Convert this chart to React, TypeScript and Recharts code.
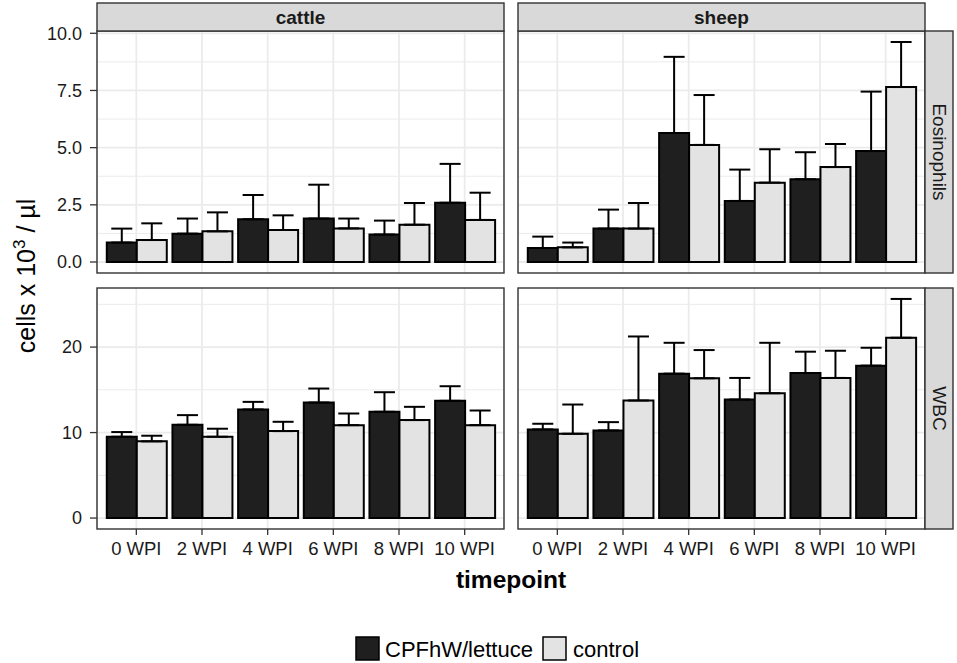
import React from 'react';
import { BarChart, Bar, XAxis, YAxis, CartesianGrid, ErrorBar } from 'recharts';

const categories = ['0 WPI', '2 WPI', '4 WPI', '6 WPI', '8 WPI', '10 WPI'];

const cattleEosCpf = [0.85, 1.24, 1.87, 1.9, 1.2, 2.59];
const cattleEosCpfSd = [0.61, 0.66, 1.06, 1.48, 0.61, 1.7];
const cattleEosCtl = [0.96, 1.34, 1.4, 1.47, 1.63, 1.84];
const cattleEosCtlSd = [0.73, 0.83, 0.64, 0.43, 0.95, 1.19];

const sheepEosCpf = [0.61, 1.46, 5.64, 2.67, 3.62, 4.85];
const sheepEosCpfSd = [0.5, 0.83, 3.33, 1.37, 1.18, 2.6];
const sheepEosCtl = [0.64, 1.46, 5.12, 3.47, 4.15, 7.65];
const sheepEosCtlSd = [0.21, 1.12, 2.18, 1.46, 1.01, 1.97];

const cattleWbcCpf = [9.51, 10.91, 12.7, 13.51, 12.43, 13.71];
const cattleWbcCpfSd = [0.55, 1.13, 0.89, 1.64, 2.29, 1.71];
const cattleWbcCtl = [8.97, 9.51, 10.17, 10.87, 11.46, 10.87];
const cattleWbcCtlSd = [0.66, 0.94, 1.09, 1.36, 1.55, 1.71];

const sheepWbcCpf = [10.37, 10.25, 16.89, 13.86, 16.97, 17.83];
const sheepWbcCpfSd = [0.66, 0.97, 3.61, 2.53, 2.49, 2.09];
const sheepWbcCtl = [9.86, 13.75, 16.35, 14.6, 16.39, 21.09];
const sheepWbcCtlSd = [3.42, 7.49, 3.3, 5.9, 3.18, 4.54];

const eosMajor = [0, 2.5, 5, 7.5, 10];
const eosMinor = [1.25, 3.75, 6.25, 8.75];
const wbcMajor = [0, 10, 20];
const wbcMinor = [5, 15, 25];
const eosDomain: [number, number] = [-0.481, 10.1];
const wbcDomain: [number, number] = [-1.28, 26.91];

const facetCols = ['cattle', 'sheep'];
const facetRows = ['Eosinophils', 'WBC'];
const legendLabels = ['CPFhW/lettuce', 'control'];

const DARK = '#1f1f1f';
const LIGHT = '#e3e3e3';
const FONT = '"Liberation Sans", Arial, Helvetica, sans-serif';

function build(cpf: number[], cpfSd: number[], ctl: number[], ctlSd: number[]) {
  return categories.map((c, i) => ({
    tp: c,
    cpf: cpf[i],
    cpfErr: [0, cpfSd[i]],
    ctl: ctl[i],
    ctlErr: [0, ctlSd[i]],
  }));
}

const COLS: [number, number][] = [
  [97, 504],
  [518, 925],
];
const ROWS: [number, number][] = [
  [31, 273],
  [288, 529],
];
const YW = 97;
const XH = 40;
const TOPPAD = 14;

type PanelProps = {
  data: any[];
  col: number;
  row: number;
  domain: [number, number];
  major: number[];
  minor: number[];
  fmt: (v: number) => string;
};

const EmptyTick = () => <g />;

function Panel({ data, col, row, domain, major, minor, fmt }: PanelProps) {
  const showY = col === 0;
  const showX = row === 1;
  const [x0, x1] = COLS[col];
  const [y0, y1] = ROWS[row];
  const pw = x1 - x0;
  const ph = y1 - y0;
  const width = pw + (showY ? YW : 0);
  const height = ph + TOPPAD + (showX ? XH : 0);
  return (
    <div style={{ position: 'absolute', left: showY ? x0 - YW : x0, top: y0 - TOPPAD }}>
      <BarChart
        width={width}
        height={height}
        data={data}
        margin={{ top: TOPPAD, right: 0, bottom: 0, left: 0 }}
        barCategoryGap="5%"
        barGap={0}
      >
        <CartesianGrid horizontalValues={minor} vertical={false} stroke="#ebebeb" strokeWidth={1} />
        <CartesianGrid horizontalValues={major} stroke="#ebebeb" strokeWidth={1.8} />
        <XAxis
          dataKey="tp"
          type="category"
          padding={{ left: 6.5, right: 6.5 }}
          height={showX ? XH : 0}
          interval={0}
          axisLine={false}
          tickSize={6}
          tickMargin={7}
          tickLine={showX ? { stroke: '#333', strokeWidth: 1.3 } : false}
          tick={showX ? { fill: '#1a1a1a', fontSize: 18.5, fontFamily: FONT } : EmptyTick}
        />
        <YAxis
          type="number"
          domain={domain}
          ticks={major}
          interval={0}
          allowDataOverflow
          hide={!showY}
          width={YW}
          axisLine={false}
          tickSize={7}
          tickMargin={8}
          tickFormatter={fmt}
          tickLine={{ stroke: '#333', strokeWidth: 1.3 }}
          tick={{ fill: '#1a1a1a', fontSize: 18, fontFamily: FONT }}
        />
        <Bar dataKey="cpf" fill={DARK} stroke="#000" strokeWidth={2} isAnimationActive={false}>
          <ErrorBar dataKey="cpfErr" width={10.5} stroke="#000" strokeWidth={2} direction="y" isAnimationActive={false} />
        </Bar>
        <Bar dataKey="ctl" fill={LIGHT} stroke="#000" strokeWidth={2} isAnimationActive={false}>
          <ErrorBar dataKey="ctlErr" width={10.5} stroke="#000" strokeWidth={2} direction="y" isAnimationActive={false} />
        </Bar>
      </BarChart>
    </div>
  );
}

const fmtEos = (v: number) => v.toFixed(1);
const fmtWbc = (v: number) => String(v);

export default function App() {
  const panels = [
    { col: 0, row: 0, data: build(cattleEosCpf, cattleEosCpfSd, cattleEosCtl, cattleEosCtlSd), domain: eosDomain, major: eosMajor, minor: eosMinor, fmt: fmtEos },
    { col: 1, row: 0, data: build(sheepEosCpf, sheepEosCpfSd, sheepEosCtl, sheepEosCtlSd), domain: eosDomain, major: eosMajor, minor: eosMinor, fmt: fmtEos },
    { col: 0, row: 1, data: build(cattleWbcCpf, cattleWbcCpfSd, cattleWbcCtl, cattleWbcCtlSd), domain: wbcDomain, major: wbcMajor, minor: wbcMinor, fmt: fmtWbc },
    { col: 1, row: 1, data: build(sheepWbcCpf, sheepWbcCpfSd, sheepWbcCtl, sheepWbcCtlSd), domain: wbcDomain, major: wbcMajor, minor: wbcMinor, fmt: fmtWbc },
  ];
  return (
    <div style={{ position: 'absolute', left: 0, top: 0, width: 957, height: 663, background: '#fff', fontFamily: FONT }}>
      {panels.map((p, i) => (
        <Panel key={i} {...p} />
      ))}
      <svg width={957} height={663} style={{ position: 'absolute', left: 0, top: 0, pointerEvents: 'none' }}>
        {COLS.map((c, ci) =>
          ROWS.map((r, ri) => (
            <rect key={`b${ci}${ri}`} x={c[0]} y={r[0]} width={c[1] - c[0]} height={r[1] - r[0]} fill="none" stroke="#333" strokeWidth={1.4} />
          ))
        )}
        {COLS.map((c, ci) => (
          <g key={`s${ci}`}>
            <rect x={c[0]} y={3} width={c[1] - c[0]} height={28} fill="#d9d9d9" stroke="#333" strokeWidth={1.4} />
            <text x={(c[0] + c[1]) / 2} y={17} textAnchor="middle" dominantBaseline="central" fontSize={19} fontWeight="bold" fill="#1a1a1a" fontFamily={FONT}>
              {facetCols[ci]}
            </text>
          </g>
        ))}
        {ROWS.map((r, ri) => (
          <g key={`r${ri}`}>
            <rect x={925} y={r[0]} width={28} height={r[1] - r[0]} fill="#d9d9d9" stroke="#333" strokeWidth={1.4} />
            <text
              x={939.5}
              y={(r[0] + r[1]) / 2}
              textAnchor="middle"
              dominantBaseline="central"
              fontSize={19}
              fill="#1a1a1a"
              fontFamily={FONT}
              transform={`rotate(90 939.5 ${(r[0] + r[1]) / 2})`}
            >
              {facetRows[ri]}
            </text>
          </g>
        ))}
        <text x={35} y={276} textAnchor="middle" fontSize={25} fill="#000" fontFamily={FONT} transform="rotate(-90 35 276)">
          cells x 10
          <tspan dy={-10} fontSize={17}>3</tspan>
          <tspan dy={10}> / µl</tspan>
        </text>
        <text x={511} y={588} textAnchor="middle" fontSize={24.5} fontWeight="bold" fill="#000" fontFamily={FONT}>
          timepoint
        </text>
        <rect x={356} y={637} width={23} height={23} fill={DARK} stroke="#000" strokeWidth={1.5} />
        <text x={385} y={649} dominantBaseline="central" fontSize={22} fill="#000" fontFamily={FONT}>
          {legendLabels[0]}
        </text>
        <rect x={543} y={637} width={23} height={23} fill={LIGHT} stroke="#000" strokeWidth={1.5} />
        <text x={573} y={649} dominantBaseline="central" fontSize={22} fill="#000" fontFamily={FONT}>
          {legendLabels[1]}
        </text>
      </svg>
    </div>
  );
}
